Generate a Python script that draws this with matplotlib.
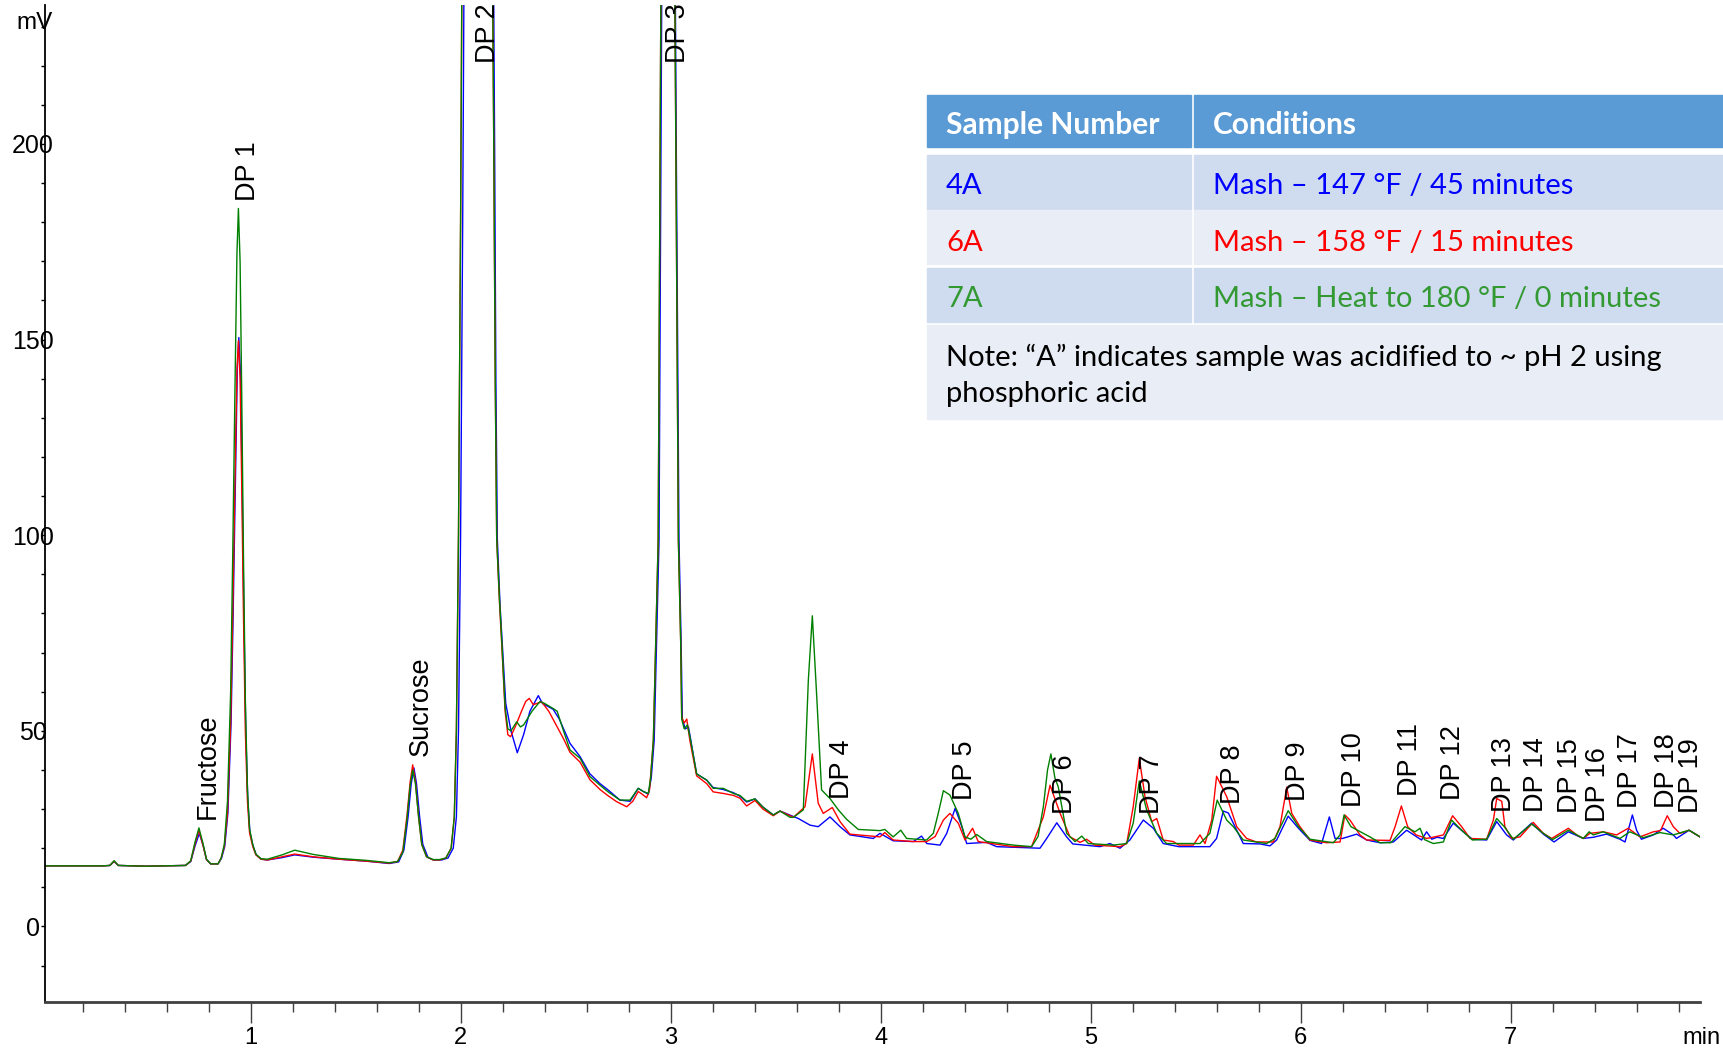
import matplotlib
matplotlib.use('Agg')
import matplotlib.pyplot as plt
from matplotlib.ticker import MultipleLocator
from matplotlib.patches import Rectangle

plt.rcParams['font.family'] = ['Liberation Sans', 'DejaVu Sans']

# sample 4A (blue) - retention time (min) and signal (mV)
t_4a = [0.02, 0.30, 0.33, 0.35, 0.37, 0.50, 0.69, 0.715, 0.735, 0.756, 0.775, 0.79, 0.81, 0.845,
        0.862, 0.877, 0.892, 0.907, 0.917, 0.927, 0.937, 0.944, 0.952, 0.960, 0.968, 0.977, 0.987,
        0.997, 1.012, 1.027, 1.05, 1.08, 1.15, 1.21, 1.30, 1.42, 1.55, 1.66, 1.705, 1.73, 1.75,
        1.765, 1.778, 1.79, 1.805, 1.82, 1.845, 1.87, 1.91, 1.94, 1.965, 1.98, 1.99, 2.00, 2.01,
        2.02, 2.08, 2.155, 2.162, 2.168, 2.175, 2.188, 2.199, 2.215, 2.24, 2.27, 2.30, 2.33, 2.37,
        2.39, 2.441, 2.47, 2.521, 2.569, 2.616, 2.664, 2.70, 2.759, 2.807, 2.846, 2.87, 2.894,
        2.908, 2.922, 2.945, 2.954, 2.962, 3.00, 3.018, 3.027, 3.04, 3.05, 3.056, 3.07, 3.085,
        3.095, 3.124, 3.172, 3.203, 3.251, 3.299, 3.33, 3.362, 3.402, 3.44, 3.489, 3.521, 3.608,
        3.664, 3.703, 3.759, 3.807, 3.854, 3.965, 3.997, 4.06, 4.156, 4.195, 4.22, 4.283, 4.315,
        4.355, 4.387, 4.41, 4.505, 4.553, 4.759, 4.791, 4.839, 4.886, 4.915, 5.045, 5.092, 5.14,
        5.187, 5.251, 5.299, 5.346, 5.42, 5.568, 5.60, 5.632, 5.656, 5.696, 5.727, 5.807, 5.854,
        5.886, 5.941, 5.99, 6.045, 6.10, 6.137, 6.164, 6.20, 6.267, 6.315, 6.378, 6.442, 6.505,
        6.576, 6.60, 6.625, 6.65, 6.68, 6.727, 6.775, 6.818, 6.886, 6.934, 6.981, 7.013, 7.10,
        7.156, 7.207, 7.275, 7.346, 7.394, 7.457, 7.521, 7.545, 7.58, 7.60, 7.623, 7.68, 7.727,
        7.775, 7.79, 7.85, 7.902]
mv_4a = [15.5, 15.5, 15.6, 16.6, 15.6, 15.4, 15.6, 16.6, 20.5, 23.8, 20.5, 17.1, 16.0, 16.0,
         17.5, 20.5, 29, 52, 80, 112, 143, 150.5, 141, 112, 80, 50, 32,
         24, 20.5, 18.3, 17.2, 17.0, 17.6, 18.3, 17.7, 17.2, 16.7, 16.1, 16.5, 19.5, 28,
         36.5, 40.5, 36.5, 28, 21, 17.6, 17.0, 17.0, 17.5, 20, 28, 50, 100, 180,
         280, 700, 260, 200, 140, 99, 82, 72, 57, 50, 44.4, 49, 55, 59,
         57, 55.5, 53, 46.8, 43.4, 39, 36.5, 35, 32.3, 32, 35.3, 34.5, 33.8,
         38, 47.6, 98.8, 200, 280, 800, 280, 200, 99, 73, 53, 50.5, 51,
         48, 39, 37.4, 35.5, 35, 34.2, 33.3, 31.8, 32.6, 30.5, 28.5, 29.5, 27.6,
         25.9, 25.5, 28.0, 25.5, 23.4, 22.5, 23.8, 21.9, 21.7, 23.1, 21.2, 20.8, 23.8,
         30.2, 25.5, 21.2, 21.5, 20.4, 20.0, 22.5, 26.5, 22.9, 21.1, 20.4, 21.2, 20.0,
         22.1, 27.2, 25.1, 21.2, 20.4, 20.4, 22.5, 29.5, 29.0, 24.6, 21.2, 21.1, 20.6,
         22.1, 28.2, 25.1, 22.0, 21.2, 28.0, 22.5, 22.5, 23.6, 22.1, 21.4, 21.6, 24.6,
         22.1, 24.2, 22.3, 22.8, 22.5, 26.4, 24.2, 22.3, 22.1, 26.8, 23.4, 22.1, 26.4,
         23.6, 21.6, 24.2, 22.5, 22.8, 23.6, 22.3, 21.6, 28.5, 24.6, 22.3, 23.4, 25.1,
         23.4, 22.5, 24.6, 22.9]

# sample 6A (red)
t_6a = [0.02, 0.30, 0.33, 0.35, 0.37, 0.50, 0.69, 0.715, 0.735, 0.754, 0.772, 0.79, 0.81, 0.845,
        0.86, 0.875, 0.89, 0.905, 0.915, 0.925, 0.935, 0.942, 0.950, 0.958, 0.966, 0.975, 0.985,
        0.995, 1.01, 1.025, 1.05, 1.08, 1.15, 1.21, 1.30, 1.42, 1.55, 1.66, 1.70, 1.725, 1.745,
        1.76, 1.772, 1.785, 1.80, 1.815, 1.838, 1.87, 1.90, 1.93, 1.955, 1.97, 1.98, 1.99, 2.00,
        2.01, 2.08, 2.15, 2.158, 2.165, 2.172, 2.185, 2.196, 2.212, 2.225, 2.238, 2.26, 2.29,
        2.31, 2.327, 2.346, 2.386, 2.42, 2.45, 2.49, 2.521, 2.569, 2.616, 2.664, 2.70, 2.743,
        2.791, 2.82, 2.846, 2.865, 2.886, 2.90, 2.918, 2.941, 2.95, 2.958, 3.00, 3.015, 3.025,
        3.037, 3.048, 3.053, 3.065, 3.077, 3.092, 3.124, 3.172, 3.203, 3.251, 3.299, 3.33, 3.362,
        3.402, 3.44, 3.489, 3.521, 3.585, 3.64, 3.675, 3.703, 3.727, 3.77, 3.807, 3.854, 3.997,
        4.02, 4.06, 4.156, 4.22, 4.26, 4.299, 4.33, 4.37, 4.402, 4.438, 4.465, 4.632, 4.719,
        4.775, 4.807, 4.855, 4.902, 4.95, 4.981, 5.02, 5.14, 5.172, 5.203, 5.232, 5.259, 5.291,
        5.315, 5.346, 5.394, 5.42, 5.489, 5.521, 5.545, 5.577, 5.600, 5.648, 5.696, 5.743, 5.79,
        5.87, 5.902, 5.934, 5.958, 5.997, 6.045, 6.124, 6.188, 6.211, 6.235, 6.283, 6.315, 6.426,
        6.45, 6.48, 6.51, 6.55, 6.60, 6.63, 6.68, 6.724, 6.767, 6.807, 6.886, 6.918, 6.934, 6.958,
        6.973, 7.005, 7.045, 7.092, 7.108, 7.156, 7.196, 7.275, 7.315, 7.346, 7.378, 7.441, 7.505,
        7.56, 7.616, 7.68, 7.714, 7.746, 7.775, 7.806, 7.85, 7.902]
mv_6a = [15.5, 15.5, 15.6, 16.7, 15.6, 15.4, 15.6, 16.7, 21, 24.6, 21, 17.1, 16.0, 16.0,
         17.5, 20.5, 29, 52, 80, 112, 142, 149.7, 140, 112, 80, 50, 32,
         24, 20.5, 18.3, 17.2, 17.0, 17.8, 18.5, 17.8, 17.2, 16.7, 16.2, 16.6, 19.5, 28.5,
         37, 41.3, 37, 28, 21, 17.8, 17.0, 17.0, 17.5, 20, 28, 50, 100, 180,
         280, 700, 260, 200, 140, 99, 83, 72, 55, 49, 48.5, 51, 55,
         57.5, 58.3, 56.7, 57.4, 55, 52, 48, 44.5, 42, 37.5, 35, 33.5, 31.9,
         30.6, 32, 34.5, 33.8, 32.9, 35, 47.6, 98.8, 200, 280, 800, 280, 200,
         99, 73, 53.5, 52, 53, 47.5, 38.5, 36.5, 34.4, 34, 33.5, 32.8, 30.8,
         32.2, 30, 28.3, 29.5, 27.9, 30.6, 44.1, 31.5, 28.9, 30.4, 26.8, 23.6, 22.9,
         24.0, 22.1, 21.7, 21.7, 23, 27.2, 28.9, 26.4, 22.1, 25.1, 21.7, 20.4, 20.4,
         28.0, 36.1, 28.9, 22.9, 21.5, 22.3, 20.8, 20.4, 21.2, 30.6, 43.0, 33.2, 26.8,
         27.6, 22.1, 21.7, 20.8, 20.8, 23.4, 21.2, 27.2, 38.4, 33.2, 25.5, 22.5, 21.6,
         21.6, 25.5, 35.6, 28.9, 25.5, 22.1, 21.4, 21.6, 28.5, 27.2, 23.4, 22.1, 22.0,
         25.5, 30.8, 25.5, 23.4, 22.5, 22.8, 23.4, 28.3, 25.5, 22.5, 22.3, 27.2, 32.7, 32.0,
         25.5, 22.5, 22.9, 25.7, 26.6, 23.8, 22.5, 25.1, 23.4, 22.5, 23.8, 24.2, 23.4,
         25.1, 22.9, 24.2, 24.5, 28.3, 25.5, 23.8, 24.6, 22.9]

# sample 7A (green)
t_7a = [0.02, 0.30, 0.33, 0.35, 0.37, 0.50, 0.69, 0.715, 0.735, 0.754, 0.772, 0.79, 0.81, 0.845,
        0.86, 0.875, 0.89, 0.905, 0.915, 0.925, 0.935, 0.942, 0.950, 0.958, 0.966, 0.975, 0.985,
        0.995, 1.01, 1.025, 1.05, 1.08, 1.15, 1.21, 1.30, 1.42, 1.55, 1.66, 1.70, 1.725, 1.745,
        1.76, 1.772, 1.785, 1.80, 1.815, 1.838, 1.87, 1.90, 1.93, 1.955, 1.97, 1.98, 1.99, 2.00,
        2.01, 2.08, 2.15, 2.158, 2.165, 2.172, 2.185, 2.196, 2.212, 2.225, 2.24, 2.267, 2.285,
        2.30, 2.34, 2.378, 2.40, 2.441, 2.46, 2.49, 2.521, 2.569, 2.616, 2.664, 2.70, 2.759,
        2.807, 2.846, 2.87, 2.894, 2.905, 2.918, 2.941, 2.95, 2.958, 3.00, 3.015, 3.025, 3.037,
        3.048, 3.053, 3.065, 3.08, 3.092, 3.124, 3.172, 3.203, 3.251, 3.299, 3.33, 3.362, 3.402,
        3.44, 3.489, 3.521, 3.569, 3.585, 3.632, 3.656, 3.675, 3.696, 3.719, 3.759, 3.799, 3.838,
        3.894, 3.997, 4.02, 4.06, 4.096, 4.124, 4.219, 4.251, 4.275, 4.299, 4.33, 4.37, 4.402,
        4.43, 4.458, 4.505, 4.632, 4.719, 4.75, 4.775, 4.795, 4.811, 4.83, 4.846, 4.886, 4.926,
        4.958, 4.989, 5.108, 5.172, 5.203, 5.232, 5.267, 5.315, 5.362, 5.521, 5.568, 5.603, 5.648,
        5.68, 5.727, 5.838, 5.878, 5.941, 5.99, 6.045, 6.156, 6.188, 6.207, 6.24, 6.299, 6.33,
        6.378, 6.43, 6.497, 6.545, 6.569, 6.59, 6.632, 6.68, 6.719, 6.767, 6.818, 6.886, 6.934,
        6.97, 7.013, 7.1, 7.156, 7.2, 7.275, 7.346, 7.374, 7.394, 7.441, 7.521, 7.568, 7.632,
        7.711, 7.775, 7.85, 7.902]
mv_7a = [15.5, 15.5, 15.6, 16.8, 15.6, 15.4, 15.6, 16.8, 21.5, 25.2, 21.5, 17.2, 16.0, 16.0,
         17.5, 21, 32, 60, 95, 135, 172, 183.5, 170, 135, 95, 58, 35,
         25, 21, 18.5, 17.3, 17.2, 18.3, 19.5, 18.4, 17.4, 16.9, 16.3, 16.6, 19, 27.5,
         36, 40, 36.5, 28, 21, 17.8, 17.1, 17.1, 17.5, 20, 28, 50, 100, 180,
         280, 700, 260, 200, 140, 99, 84, 73, 56, 50.5, 50, 52.3, 51,
         51.5, 55, 57.5, 57, 55.7, 55, 50, 45.1, 43, 38.3, 36.1, 34.5, 32.3,
         32.3, 35.3, 34.5, 34, 38, 47.6, 98.8, 200, 280, 800, 280, 200, 99,
         73, 53, 50.5, 51.5, 48.5, 39, 37.4, 35.3, 35.3, 34, 33.5, 32, 32.6,
         30.5, 28.5, 29.5, 27.9, 27.9, 29.8, 63, 79.4, 58.7, 34.9, 32.7, 29.8, 27.4,
         24.8, 24.5, 24.8, 22.9, 24.6, 22.5, 22.1, 23.8, 29, 34.7, 33.6, 28.9, 22.9,
         22.3, 23.5, 21.7, 20.8, 20.4, 23, 30.6, 40, 44.1, 38, 35.7, 23.8, 21.7,
         23.1, 21.2, 20.8, 21.2, 26.4, 37.2, 29.8, 23.8, 21.2, 21.2, 23.8, 32.3, 27.2,
         25.5, 22.1, 21.2, 22.5, 29.6, 25.5, 22.3, 21.4, 23.4, 28.5, 25.5, 23.8, 22.9,
         21.4, 21.4, 25.5, 24.2, 25.1, 22.2, 21.2, 21.6, 27.2, 24.6, 22.1, 22.3, 27.6,
         25.5, 22.3, 26.2, 23.8, 22.2, 24.6, 22.5, 24.2, 23.4, 24.2, 22.5, 24.2, 22.7,
         24, 23.4, 24.6, 22.9]

peak_names = ['Fructose', 'DP 1', 'Sucrose', 'DP 2', 'DP 3', 'DP 4', 'DP 5', 'DP 6', 'DP 7',
              'DP 8', 'DP 9', 'DP 10', 'DP 11', 'DP 12', 'DP 13', 'DP 14', 'DP 15', 'DP 16',
              'DP 17', 'DP 18', 'DP 19']
peak_label_t = [0.796, 0.990, 1.811, 2.130, 3.035, 3.815, 4.402, 4.878, 5.291, 5.678, 5.989,
                6.256, 6.521, 6.724, 6.970, 7.121, 7.283, 7.415, 7.569, 7.743, 7.858]
peak_label_mv = [27.5, 185.4, 43.6, 220.8, 220.8, 32.6, 32.3, 28.7, 28.7, 31.2, 32.1, 30.6,
                 33.3, 32.3, 29.3, 29.3, 28.9, 26.8, 30.4, 30.4, 29.1]

sample_ids = ['4A', '6A', '7A']
conditions = ['Mash \u2013 147 \u00b0F / 45 minutes', 'Mash \u2013 158 \u00b0F / 15 minutes',
              'Mash \u2013 Heat to 180 \u00b0F / 0 minutes']
note = ['Note: \u201cA\u201d indicates sample was acidified to ~ pH 2 using', 'phosphoric acid']

W, H = 1723, 1049
fig = plt.figure(figsize=(W / 100, H / 100), dpi=100)
ax = fig.add_axes([45 / W, 1 - 1002 / H, (1700 - 45) / W, (1002 - 5) / H])

ax.plot(t_4a, mv_4a, color='#0000ff', lw=1.0)
ax.plot(t_6a, mv_6a, color='#ff0000', lw=1.0)
ax.plot(t_7a, mv_7a, color='#008000', lw=1.0)

for name, tx, ty in zip(peak_names, peak_label_t, peak_label_mv):
    ax.text(tx, ty, name, rotation=90, ha='center', va='bottom', fontsize=19.5)

ax.set_xlim(0.021, 7.902)
ax.set_ylim(-19.3, 235.5)
ax.spines['top'].set_visible(False)
ax.spines['right'].set_visible(False)
ax.spines['left'].set_linewidth(1.3)
ax.spines['bottom'].set_linewidth(2.0)
ax.spines['bottom'].set_color('#404040')

ax.set_xticks([1, 2, 3, 4, 5, 6, 7])
ax.xaxis.set_minor_locator(MultipleLocator(0.2))
ax.set_yticks([0, 50, 100, 150, 200])
ax.yaxis.set_minor_locator(MultipleLocator(10))
ax.tick_params(axis='x', which='major', length=15, width=1, color='#404040', pad=3, labelsize=17)
ax.tick_params(axis='x', which='minor', length=7, width=1, color='#404040')
ax.tick_params(axis='y', which='both', length=3, width=1, pad=5.8, labelsize=18)
plt.setp(ax.get_yticklabels(), ha='center')

fig.text(16 / W, 1 - 23 / H, 'mV', ha='left', va='center', fontsize=17.5)
fig.text(1721 / W, 1 - 1038 / H, 'min', ha='right', va='center', fontsize=17)

# table overlay, drawn in pixel coordinates
tax = fig.add_axes([0, 0, 1, 1])
tax.set_xlim(0, W)
tax.set_ylim(H, 0)
tax.axis('off')

hdr = '#5b9bd5'
row_cols = ['#cfdbee', '#e9edf6', '#cfdbee']
txt_cols = ['#0000ff', '#ff0000', '#339933']
c1, c2, c3 = 927, 1191, 1194

tax.add_patch(Rectangle((c1, 95), c2 - c1, 52, color=hdr))
tax.add_patch(Rectangle((c3, 95), W - c3, 52, color=hdr))
tax.text(946, 125, 'Sample Number', color='white', fontweight='bold', fontsize=21.5,
         family='Lato', va='center')
tax.text(1213, 125, 'Conditions', color='white', fontweight='bold', fontsize=21.5,
         family='Lato', va='center')

row_tops = [155, 210, 268]
row_shift = [4, 6, 4]
for i in range(3):
    y0 = row_tops[i]
    tax.add_patch(Rectangle((c1, y0), c2 - c1, 54, color=row_cols[i]))
    tax.add_patch(Rectangle((c3, y0), W - c3, 54, color=row_cols[i]))
    tax.text(946, y0 + 27 + row_shift[i], sample_ids[i], color=txt_cols[i], fontsize=21,
             family='Lato', va='center')
    tax.text(1213, y0 + 27 + row_shift[i], conditions[i], color=txt_cols[i], fontsize=21,
             family='Lato', va='center')

tax.add_patch(Rectangle((c1, 325), W - c1, 94, color='#e9edf6'))
tax.text(946, 357, note[0], color='black', fontsize=21, family='Lato', va='center')
tax.text(946, 394, note[1], color='black', fontsize=21, family='Lato', va='center')

fig.savefig('out.png', dpi=100)
